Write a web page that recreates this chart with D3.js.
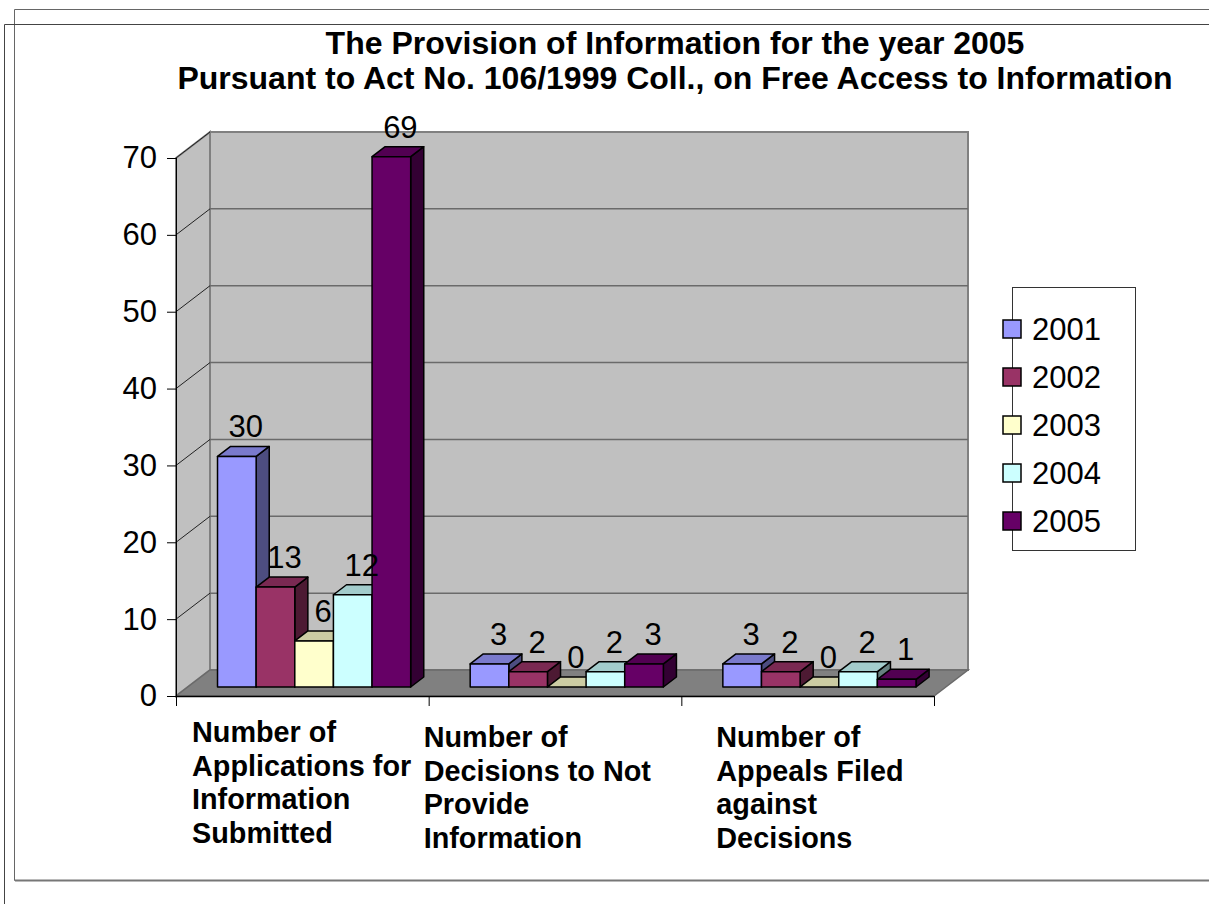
<!DOCTYPE html>
<html>
<head>
<meta charset="utf-8">
<script src="https://cdn.jsdelivr.net/npm/d3@7"></script>
<style>
  html, body { margin: 0; padding: 0; background: #fff; }
  svg { display: block; font-family: "Liberation Sans", Arial, sans-serif; }
</style>
</head>
<body>
<svg id="chart" width="1209" height="904"></svg>
<script>
// ---------- data ----------
const titleLines = [
  "The Provision of Information for the year 2005",
  "Pursuant to Act No. 106/1999 Coll., on Free Access to Information"
];
const categories = ["Applications", "Decisions", "Appeals"];
const categoryLabels = [
  ["Number of", "Applications for", "Information", "Submitted"],
  ["Number of", "Decisions to Not", "Provide", "Information"],
  ["Number of", "Appeals Filed", "against", "Decisions"]
];
const years = ["2001", "2002", "2003", "2004", "2005"];
const values2001 = [30, 3, 3];
const values2002 = [13, 2, 2];
const values2003 = [6, 0, 0];
const values2004 = [12, 2, 2];
const values2005 = [69, 3, 1];
const yTicks = [0, 10, 20, 30, 40, 50, 60, 70];

// ---------- styles / layout ----------
const seriesValues = [values2001, values2002, values2003, values2004, values2005];
const colors = ["#9999FF", "#993366", "#FFFFCC", "#CCFFFF", "#660066"];
function shade(c, k) { const r = d3.rgb(c); return d3.rgb(r.r * k, r.g * k, r.b * k).formatHex(); }

const svg = d3.select("#chart");
const plot = { left: 176, right: 934, top: 158, bottom: 696 };
const depthX = 34, depthY = 26;          // wall depth
const barFront = 9 / 26, barDepth = 10 / 26;

const x = d3.scaleBand().domain(categories).range([plot.left, plot.right]).paddingInner(0).paddingOuter(0);
const xs = d3.scaleBand().domain(years).range([0, x.bandwidth()]).paddingInner(0).paddingOuter(0.77);
const y = d3.scaleLinear().domain([0, 70]).range([plot.bottom, plot.top]);

// ---------- outer frames ----------
const frame = svg.append("g").attr("fill", "none").attr("stroke", "#555").attr("stroke-width", 1);
frame.append("path").attr("d", "M1209,9.5 H14.5 V880.5 H1209").attr("stroke", "#666");
frame.append("path").attr("d", "M1209,24.5 H4.5 V904").attr("stroke", "#444");
svg.append("line").attr("x1", 15).attr("x2", 1209).attr("y1", 880.5).attr("y2", 880.5).attr("stroke", "#777").attr("stroke-width", 2);

// ---------- title ----------
svg.append("g").selectAll("text").data(titleLines).join("text")
  .attr("x", 675).attr("y", (d, i) => 54 + i * 35)
  .attr("text-anchor", "middle").attr("font-weight", "bold").attr("font-size", 32)
  .attr("fill", "#000").text(d => d);

// ---------- walls ----------
const y0 = y(0), yTop = y(70);
const walls = svg.append("g");
// side wall
walls.append("path")
  .attr("d", `M${plot.left},${yTop} L${plot.left + depthX},${yTop - depthY} L${plot.left + depthX},${y0 - depthY} L${plot.left},${y0} Z`)
  .attr("fill", "#C0C0C0").attr("stroke", "#808080").attr("stroke-width", 2);
// back wall
walls.append("rect")
  .attr("x", plot.left + depthX).attr("y", yTop - depthY)
  .attr("width", plot.right - plot.left).attr("height", y0 - yTop)
  .attr("fill", "#C0C0C0").attr("stroke", "#808080").attr("stroke-width", 2);
// gridlines
walls.selectAll(".grid").data(yTicks.filter(t => t > 0 && t < 70)).join("line")
  .attr("x1", plot.left + depthX).attr("x2", plot.right + depthX)
  .attr("y1", d => y(d) - depthY).attr("y2", d => y(d) - depthY)
  .attr("stroke", "#6a6a6a").attr("stroke-width", 1.5);
walls.selectAll(".sgrid").data(yTicks.filter(t => t > 0)).join("line")
  .attr("x1", plot.left).attr("x2", plot.left + depthX)
  .attr("y1", d => y(d)).attr("y2", d => y(d) - depthY)
  .attr("stroke", "#222").attr("stroke-width", 1);
// floor
walls.append("path")
  .attr("d", `M${plot.left},${y0} L${plot.left + depthX},${y0 - depthY} L${plot.right + depthX},${y0 - depthY} L${plot.right},${y0} Z`)
  .attr("fill", "#808080").attr("stroke", "#6a6a6a").attr("stroke-width", 1.5);

// ---------- axes ----------
const yAxis = svg.append("g").attr("transform", `translate(${plot.left},0)`)
  .call(d3.axisLeft(y).tickValues(yTicks).tickSize(9).tickPadding(10).tickFormat(d3.format("d")));
yAxis.select(".domain").attr("stroke", "#000").attr("d", `M0.5,${yTop}V${y0}`);
yAxis.selectAll(".tick line").attr("stroke", "#000");
yAxis.selectAll(".tick text").attr("font-size", 31).attr("font-family", "Liberation Sans, Arial, sans-serif").attr("fill", "#000");

const bounds = categories.map(c => x(c)).concat([plot.right]);
const xAxis = svg.append("g");
xAxis.append("line").attr("x1", plot.left).attr("x2", plot.right).attr("y1", y0 + 0.5).attr("y2", y0 + 0.5)
  .attr("stroke", "#000").attr("stroke-width", 1.5);
xAxis.selectAll(".xt").data(bounds).join("line")
  .attr("x1", d => d + 0.5).attr("x2", d => d + 0.5).attr("y1", y0).attr("y2", y0 + 10)
  .attr("stroke", "#000").attr("stroke-width", 1);

// category labels
const labelDx = [16, -5, 35];
const labelBaseline = [742, 747, 747];
const catG = svg.append("g");
categories.forEach((c, i) => {
  const t = catG.append("text").attr("font-weight", "bold").attr("font-size", 28.8).attr("fill", "#000");
  categoryLabels[i].forEach((line, j) => {
    t.append("tspan").attr("x", x(c) + labelDx[i]).attr("y", labelBaseline[i] + j * 33.7).text(line);
  });
});

// ---------- bars ----------
const fdx = depthX * barFront, fdy = depthY * barFront;
const bdx = depthX * barDepth, bdy = depthY * barDepth;
const barsG = svg.append("g");
const labelsG = svg.append("g");
categories.forEach((c, ci) => {
  years.forEach((yr, si) => {
    const v = seriesValues[si][ci];
    const x0 = x(c) + xs(yr) + fdx;
    const w = xs.bandwidth();
    const yb = y(0) - fdy;
    const yt = y(v) - fdy;
    const g = barsG.append("g").attr("stroke", "#000").attr("stroke-width", 1.5).attr("stroke-linejoin", "round");
    g.append("path")
      .attr("d", `M${x0 + w},${yt} L${x0 + w + bdx},${yt - bdy} L${x0 + w + bdx},${yb - bdy} L${x0 + w},${yb} Z`)
      .attr("fill", shade(colors[si], 0.5));
    g.append("path")
      .attr("d", `M${x0},${yt} L${x0 + w},${yt} L${x0 + w + bdx},${yt - bdy} L${x0 + bdx},${yt - bdy} Z`)
      .attr("fill", shade(colors[si], 0.8));
    g.append("rect").attr("x", x0).attr("y", yt).attr("width", w).attr("height", yb - yt)
      .attr("fill", colors[si]);
    labelsG.append("text")
      .attr("x", x0 + w / 2 + 9).attr("y", yt - bdy - 9)
      .attr("text-anchor", "middle").attr("font-size", 31).attr("fill", "#000")
      .text(v);
  });
});

// ---------- legend ----------
const legend = svg.append("g");
legend.append("rect").attr("x", 1012.5).attr("y", 287.5).attr("width", 123).attr("height", 263)
  .attr("fill", "#fff").attr("stroke", "#333").attr("stroke-width", 1);
const li = legend.selectAll(".li").data(years).join("g")
  .attr("transform", (d, i) => `translate(1012,${329 + i * 48})`);
li.append("rect").attr("x", -9).attr("y", -9).attr("width", 18).attr("height", 18)
  .attr("fill", (d, i) => colors[i]).attr("stroke", "#000").attr("stroke-width", 1.5);
li.append("text").attr("x", 20).attr("y", 11).attr("font-size", 31).attr("fill", "#000").text(d => d);
</script>
</body>
</html>
